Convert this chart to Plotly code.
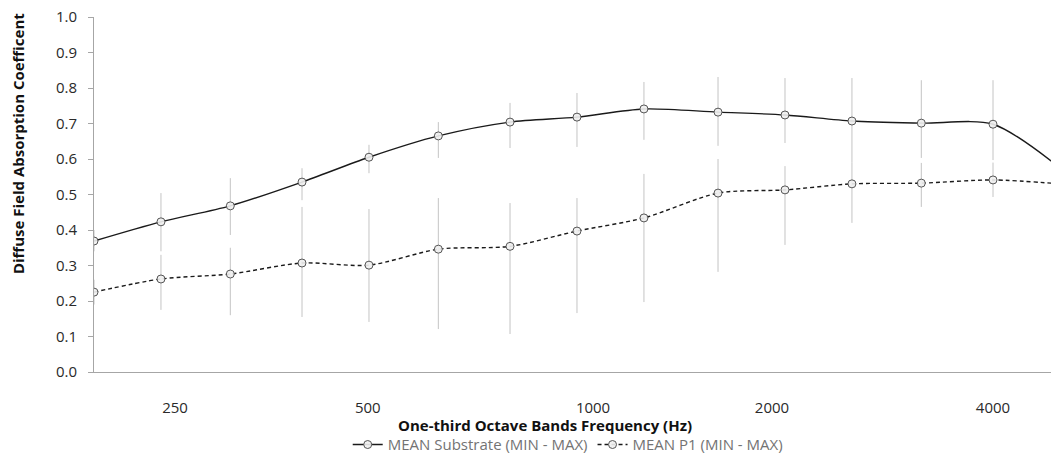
import plotly.graph_objects as go

freq = [200, 250, 315, 400, 500, 630, 800, 1000, 1250, 1600, 2000, 2500, 3150, 4000, 5000]

sub_mean = [0.369, 0.423, 0.468, 0.535, 0.605, 0.665, 0.704, 0.718, 0.741, 0.732, 0.724, 0.707, 0.701, 0.698, 0.575]
sub_max  = [0.40, 0.504, 0.546, 0.574, 0.640, 0.704, 0.758, 0.786, 0.817, 0.831, 0.828, 0.828, 0.822, 0.822, 0.66]
sub_min  = [0.34, 0.340, 0.386, 0.484, 0.560, 0.603, 0.631, 0.634, 0.654, 0.637, 0.645, 0.590, 0.603, 0.597, 0.50]

p1_mean = [0.225, 0.262, 0.276, 0.307, 0.301, 0.346, 0.354, 0.397, 0.434, 0.504, 0.513, 0.530, 0.532, 0.541, 0.530]
p1_max  = [0.26, 0.330, 0.350, 0.465, 0.459, 0.490, 0.476, 0.490, 0.558, 0.600, 0.580, 0.590, 0.589, 0.590, 0.56]
p1_min  = [0.19, 0.175, 0.160, 0.155, 0.141, 0.121, 0.107, 0.166, 0.197, 0.282, 0.358, 0.420, 0.465, 0.493, 0.50]

tick_pos = [262, 498, 1055, 1915, 4000]
tick_labels = ["250", "500", "1000", "2000", "4000"]

names = ["MEAN Substrate (MIN - MAX)", "MEAN P1 (MIN - MAX)"]

FONT = "Open Sans"
ERR = "#c4c4c4"

def trace(mean, lo, hi, name, dash):
    return go.Scatter(
        x=freq, y=mean, name=name, mode="lines+markers",
        line=dict(color="#1a1a1a", width=1.4, dash=dash, shape="spline", smoothing=0.8),
        marker=dict(symbol="circle", size=8, color="rgba(240,240,240,0.9)",
                    line=dict(color="#555555", width=1)),
        error_y=dict(type="data", symmetric=False,
                     array=[h - m for h, m in zip(hi, mean)],
                     arrayminus=[m - l for m, l in zip(mean, lo)],
                     color=ERR, thickness=1, width=0),
        cliponaxis=True,
    )

fig = go.Figure()
fig.add_trace(trace(sub_mean, sub_min, sub_max, names[0], "solid"))
fig.add_trace(trace(p1_mean, p1_min, p1_max, names[1], "4px,3px"))

fig.update_layout(
    width=1051, height=456,
    margin=dict(l=94, r=0, t=17, b=84, autoexpand=False),
    paper_bgcolor="white", plot_bgcolor="white",
    font=dict(family=FONT, color="#333333"),
    showlegend=True,
    legend=dict(orientation="h", x=0.495, y=-0.205, xanchor="center", yanchor="middle",
                font=dict(size=15, color="#737373", family=FONT), itemwidth=30,
                bgcolor="rgba(0,0,0,0)"),
    xaxis=dict(type="log", range=[2.30103, 3.686], showgrid=False, zeroline=False,
               showline=True, linecolor="#a6a6a6", linewidth=1, automargin=False,
               tickvals=tick_pos, ticktext=tick_labels, ticks="",
               ticklabelstandoff=22,
               tickfont=dict(size=15, color="#2a2a2a", family=FONT)),
    yaxis=dict(range=[0, 1], dtick=0.1, tick0=0, tickformat=".1f", showgrid=False,
               zeroline=False, showline=True, linecolor="#a6a6a6", linewidth=1,
               ticks="outside", ticklen=5, tickcolor="#a6a6a6", automargin=False,
               ticklabelstandoff=8,
               tickfont=dict(size=15, color="#2a2a2a", family=FONT)),
    annotations=[
        dict(text="<b>One-third Octave Bands Frequency (Hz)</b>", xref="paper", yref="paper",
             x=0.471, y=-0.148, xanchor="center", yanchor="middle", showarrow=False,
             font=dict(size=15, color="#111111", family=FONT)),
        dict(text="<b>Diffuse Field Absorption Coefficent</b>", xref="paper", yref="paper",
             x=-0.0794, y=0.642, xanchor="center", yanchor="middle", showarrow=False,
             textangle=-90, font=dict(size=15, color="#111111", family=FONT)),
    ],
)

fig.write_html("out.html", config={"displayModeBar": False},
               post_script="document.body.style.margin='0';document.body.style.overflow='hidden';")
